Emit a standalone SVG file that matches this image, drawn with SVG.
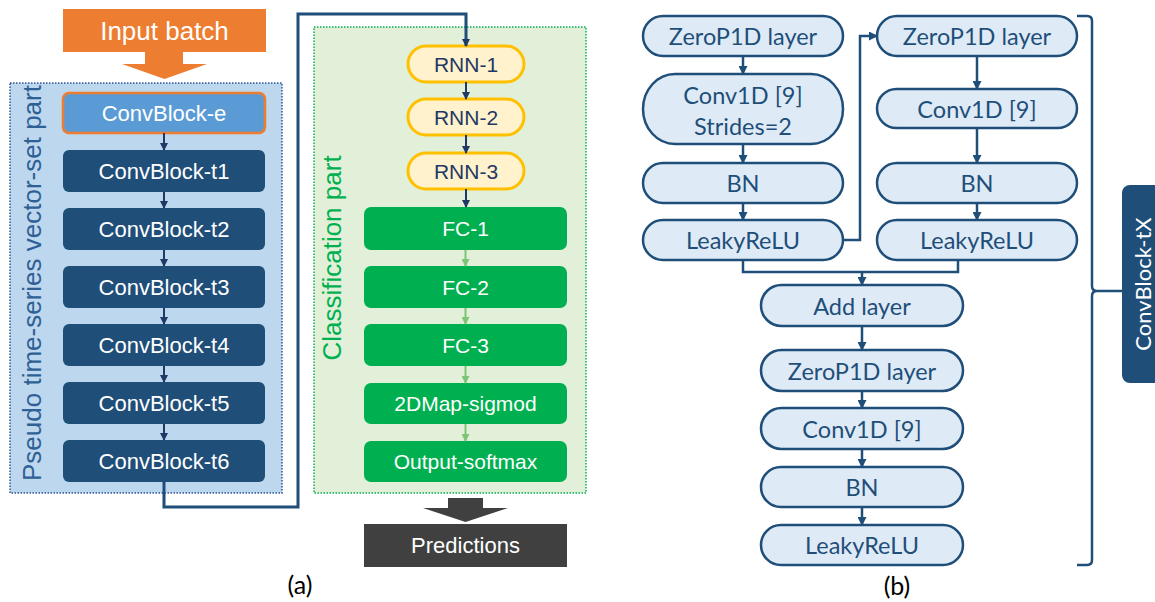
<svg xmlns="http://www.w3.org/2000/svg" width="1155" height="602" viewBox="0 0 1155 602">
  <defs>
    <marker id="arrNavy" markerWidth="8" markerHeight="8" refX="7" refY="4" orient="auto" markerUnits="userSpaceOnUse">
      <path d="M0,0 L8,4 L0,8 Z" fill="#1F3864"/>
    </marker>
    <marker id="arrBlue" markerWidth="9" markerHeight="9" refX="8" refY="4.5" orient="auto" markerUnits="userSpaceOnUse">
      <path d="M0,0 L9,4.5 L0,9 Z" fill="#1F4E79"/>
    </marker>
    <marker id="arrGreen" markerWidth="8" markerHeight="8" refX="7" refY="4" orient="auto" markerUnits="userSpaceOnUse">
      <path d="M0,0 L8,4 L0,8 Z" fill="#7CC576"/>
    </marker>
    <style>
      .sans { font-family: "Liberation Sans", Arial, sans-serif; }
      .cal { font-family: Lato, "Liberation Sans", sans-serif; }
      .dark { fill: #1F4E79; }
      .dark-t { fill: #ffffff; font-size: 22px; text-anchor: middle; dominant-baseline: central; }
      .rnn { fill: #FFF2CC; stroke: #FFC000; stroke-width: 3; }
      .rnn-t { fill: #1F3864; font-size: 21px; text-anchor: middle; dominant-baseline: central; }
      .fc { fill: #00B050; }
      .fc-t { fill: #ffffff; font-size: 21px; text-anchor: middle; dominant-baseline: central; }
      .pill { fill: #DEEBF7; stroke: #1F4E79; stroke-width: 2.5; }
      .pill-t { fill: #1F4E79; font-size: 23.5px; text-anchor: middle; dominant-baseline: central; }
      .link-a { fill: none; stroke: #1F3864; stroke-width: 2; }
      .link-g { fill: none; stroke: #7CC576; stroke-width: 2; }
      .link-b { fill: none; stroke: #1F4E79; stroke-width: 2.5; }
      .cap { fill: #000000; font-size: 25px; text-anchor: middle; }
    </style>
  </defs>

  <!-- Panel (a): containers -->
  <rect id="feature-part" x="10" y="83" width="272" height="410" fill="#BDD7EE" stroke="#2F5597" stroke-width="1.5" stroke-dasharray="1.5 1.5"/>
  <text class="sans" x="0" y="0" transform="translate(32,283) rotate(-90)" font-size="26" fill="#2E6095" text-anchor="middle" dominant-baseline="central">Pseudo time-series vector-set part</text>
  <rect id="classification-part" x="314" y="27" width="272" height="466" fill="#E2F0D9" stroke="#00B050" stroke-width="1.5" stroke-dasharray="1.5 1.5"/>
  <text class="sans" x="0" y="0" transform="translate(332,258) rotate(-90)" font-size="26" fill="#00B050" text-anchor="middle" dominant-baseline="central">Classification part</text>

  <!-- Panel (a): nodes -->
  <g id="input-batch">
    <rect x="63" y="9" width="203" height="43" fill="#ED7D31"/>
    <text class="sans" x="164.5" y="31" font-size="26" fill="#ffffff" text-anchor="middle" dominant-baseline="central">Input batch</text>
    <polygon points="145,52 183,52 183,64 207,64 164.5,79 122,64 145,64" fill="#ED7D31"/>
  </g>
  <g id="convblock-e">
    <rect x="63" y="93" width="202" height="40" rx="6" fill="#5B9BD5" stroke="#ED7D31" stroke-width="2.5"/>
    <text class="sans dark-t" x="164" y="113">ConvBlock-e</text>
  </g>
  <g id="convblock-t1"><rect class="dark" x="63" y="150" width="202" height="42" rx="6"/><text class="sans dark-t" x="164" y="171">ConvBlock-t1</text></g>
  <g id="convblock-t2"><rect class="dark" x="63" y="208" width="202" height="42" rx="6"/><text class="sans dark-t" x="164" y="229">ConvBlock-t2</text></g>
  <g id="convblock-t3"><rect class="dark" x="63" y="266" width="202" height="42" rx="6"/><text class="sans dark-t" x="164" y="287">ConvBlock-t3</text></g>
  <g id="convblock-t4"><rect class="dark" x="63" y="324" width="202" height="42" rx="6"/><text class="sans dark-t" x="164" y="345">ConvBlock-t4</text></g>
  <g id="convblock-t5"><rect class="dark" x="63" y="382" width="202" height="42" rx="6"/><text class="sans dark-t" x="164" y="403">ConvBlock-t5</text></g>
  <g id="convblock-t6"><rect class="dark" x="63" y="440" width="202" height="42" rx="6"/><text class="sans dark-t" x="164" y="461">ConvBlock-t6</text></g>

  <g id="rnn-1"><rect class="rnn" x="408" y="46" width="116" height="36" rx="18"/><text class="sans rnn-t" x="466" y="64">RNN-1</text></g>
  <g id="rnn-2"><rect class="rnn" x="408" y="99" width="116" height="36" rx="18"/><text class="sans rnn-t" x="466" y="117">RNN-2</text></g>
  <g id="rnn-3"><rect class="rnn" x="408" y="153" width="116" height="36" rx="18"/><text class="sans rnn-t" x="466" y="171">RNN-3</text></g>
  <g id="fc-1"><rect class="fc" x="364" y="207" width="203" height="43" rx="7"/><text class="sans fc-t" x="465.5" y="228.5">FC-1</text></g>
  <g id="fc-2"><rect class="fc" x="364" y="266" width="203" height="42" rx="7"/><text class="sans fc-t" x="465.5" y="287">FC-2</text></g>
  <g id="fc-3"><rect class="fc" x="364" y="324" width="203" height="42" rx="7"/><text class="sans fc-t" x="465.5" y="345">FC-3</text></g>
  <g id="map-sigmoid"><rect class="fc" x="364" y="383" width="203" height="41" rx="7"/><text class="sans fc-t" x="465.5" y="403.5">2DMap-sigmod</text></g>
  <g id="output-softmax"><rect class="fc" x="364" y="441" width="203" height="41" rx="7"/><text class="sans fc-t" x="465.5" y="461.5">Output-softmax</text></g>

  <g id="predictions">
    <polygon points="448,498 483,498 483,508 508,508 465.5,522 423,508 448,508" fill="#404040"/>
    <rect x="364" y="524" width="203" height="43" fill="#404040"/>
    <text class="sans" x="465.5" y="545.5" font-size="22" fill="#ffffff" text-anchor="middle" dominant-baseline="central">Predictions</text>
  </g>

  <!-- Panel (b): nodes -->
  <g id="b-zeropad-1"><rect class="pill" x="643" y="16" width="200" height="40" rx="20"/><text class="cal pill-t" x="743" y="36">ZeroP1D layer</text></g>
  <g id="b-conv-stride"><rect class="pill" x="643" y="74" width="200" height="70" rx="32" ry="35"/><text class="cal pill-t" x="743" y="95">Conv1D [9]</text><text class="cal pill-t" x="743" y="126">Strides=2</text></g>
  <g id="b-bn-1"><rect class="pill" x="643" y="163" width="200" height="40" rx="20"/><text class="cal pill-t" x="743" y="183">BN</text></g>
  <g id="b-relu-1"><rect class="pill" x="643" y="220" width="200" height="40" rx="20"/><text class="cal pill-t" x="743" y="240">LeakyReLU</text></g>

  <g id="b-zeropad-2"><rect class="pill" x="877" y="16" width="200" height="40" rx="20"/><text class="cal pill-t" x="977" y="36">ZeroP1D layer</text></g>
  <g id="b-conv-2"><rect class="pill" x="877" y="89" width="200" height="39" rx="19.5"/><text class="cal pill-t" x="977" y="108.5">Conv1D [9]</text></g>
  <g id="b-bn-2"><rect class="pill" x="877" y="163" width="200" height="40" rx="20"/><text class="cal pill-t" x="977" y="183">BN</text></g>
  <g id="b-relu-2"><rect class="pill" x="877" y="220" width="200" height="40" rx="20"/><text class="cal pill-t" x="977" y="240">LeakyReLU</text></g>

  <g id="b-add"><rect class="pill" x="761" y="285" width="202" height="41" rx="20.5"/><text class="cal pill-t" x="862" y="305.5">Add layer</text></g>
  <g id="b-zeropad-3"><rect class="pill" x="761" y="350" width="202" height="41" rx="20.5"/><text class="cal pill-t" x="862" y="370.5">ZeroP1D layer</text></g>
  <g id="b-conv-3"><rect class="pill" x="761" y="408" width="202" height="41" rx="20.5"/><text class="cal pill-t" x="862" y="428.5">Conv1D [9]</text></g>
  <g id="b-bn-3"><rect class="pill" x="761" y="467" width="202" height="40" rx="20"/><text class="cal pill-t" x="862" y="487">BN</text></g>
  <g id="b-relu-3"><rect class="pill" x="761" y="525" width="202" height="40" rx="20"/><text class="cal pill-t" x="862" y="545">LeakyReLU</text></g>

  <g id="convblock-tx">
    <rect x="1122" y="185" width="50" height="198" rx="8" fill="#1F4E79"/>
    <text class="cal" x="0" y="0" transform="translate(1142,284) rotate(-90)" font-size="22" fill="#ffffff" text-anchor="middle" dominant-baseline="central">ConvBlock-tX</text>
  </g>

  <!-- Connectors -->
  <g id="connectors">
    <path class="link-a" d="M164,133 V150" marker-end="url(#arrNavy)"/>
    <path class="link-a" d="M164,192 V208" marker-end="url(#arrNavy)"/>
    <path class="link-a" d="M164,250 V266" marker-end="url(#arrNavy)"/>
    <path class="link-a" d="M164,308 V324" marker-end="url(#arrNavy)"/>
    <path class="link-a" d="M164,366 V382" marker-end="url(#arrNavy)"/>
    <path class="link-a" d="M164,424 V440" marker-end="url(#arrNavy)"/>
    <path d="M164,482 V507 H298 V14 H466 V46" fill="none" stroke="#1F4E79" stroke-width="3" marker-end="url(#arrNavy)"/>
    <path class="link-a" d="M466,82 V99" marker-end="url(#arrNavy)"/>
    <path class="link-a" d="M466,135 V153" marker-end="url(#arrNavy)"/>
    <path class="link-a" d="M466,189 V207" marker-end="url(#arrNavy)"/>
    <path class="link-g" d="M465.5,250 V266" marker-end="url(#arrGreen)"/>
    <path class="link-g" d="M465.5,308 V324" marker-end="url(#arrGreen)"/>
    <path class="link-g" d="M465.5,366 V383" marker-end="url(#arrGreen)"/>
    <path class="link-g" d="M465.5,424 V441" marker-end="url(#arrGreen)"/>

    <path class="link-b" d="M743,56 V74" marker-end="url(#arrBlue)"/>
    <path class="link-b" d="M743,144 V163" marker-end="url(#arrBlue)"/>
    <path class="link-b" d="M743,203 V220" marker-end="url(#arrBlue)"/>
    <path class="link-b" d="M977,56 V89" marker-end="url(#arrBlue)"/>
    <path class="link-b" d="M977,128 V163" marker-end="url(#arrBlue)"/>
    <path class="link-b" d="M977,203 V220" marker-end="url(#arrBlue)"/>
    <path class="link-b" d="M843,240 H860 V36 H877" marker-end="url(#arrBlue)"/>
    <path class="link-b" d="M743,260 V272 H958 V260"/>
    <path class="link-b" d="M862,272 V285" marker-end="url(#arrBlue)"/>
    <path class="link-b" d="M862,326 V350" marker-end="url(#arrBlue)"/>
    <path class="link-b" d="M862,391 V408" marker-end="url(#arrBlue)"/>
    <path class="link-b" d="M862,449 V467" marker-end="url(#arrBlue)"/>
    <path class="link-b" d="M862,507 V525" marker-end="url(#arrBlue)"/>
    <path class="link-b" d="M1077,16 H1087 Q1092,16 1092,21 V286 Q1092,291 1097,291 H1122 M1097,291 Q1092,291 1092,296 V560 Q1092,565 1087,565 H1077"/>
  </g>

  <!-- Sub-figure captions -->
  <text class="cal cap" x="300" y="594">(a)</text>
  <text class="cal cap" x="897" y="595">(b)</text>
</svg>
